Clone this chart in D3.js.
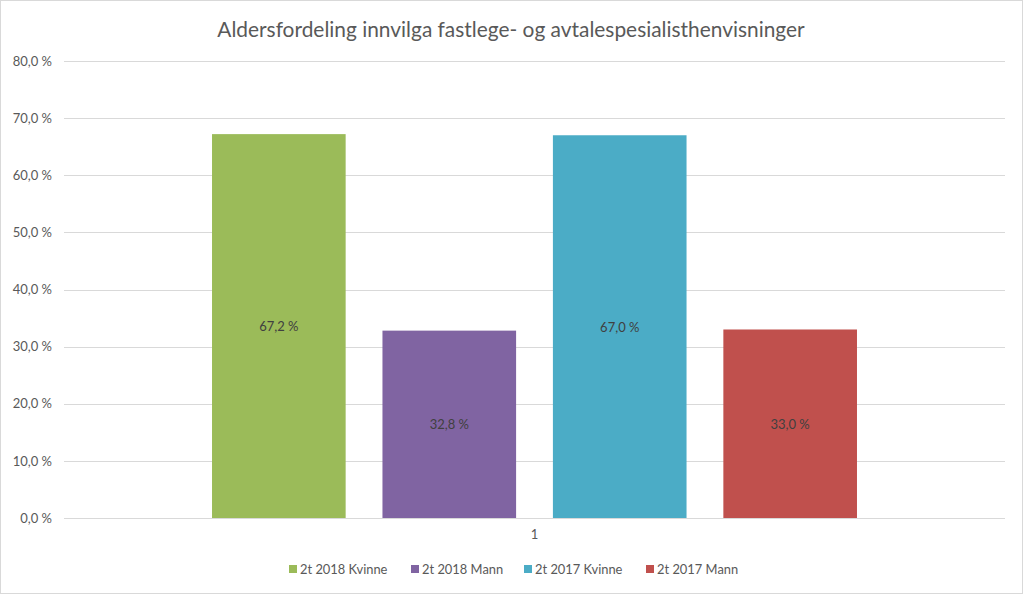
<!DOCTYPE html>
<html><head><meta charset="utf-8">
<script src="https://cdn.jsdelivr.net/npm/d3@7"></script>
<style>body{margin:0;background:#fff;font-family:Lato,"Open Sans",sans-serif}</style>
</head><body><svg id="c" width="1023" height="594"></svg>
<script>
const categories = ["1"];
const seriesNames = ["2t 2018 Kvinne","2t 2018 Mann","2t 2017 Kvinne","2t 2017 Mann"];
const seriesValues = [67.2, 32.8, 67.0, 33.0];
const seriesColors = ["#9bbb59","#8064a2","#4bacc6","#c0504d"];
const yTicks = [0,10,20,30,40,50,60,70,80];
const title = "Aldersfordeling innvilga fastlege- og avtalespesialisthenvisninger";

const svg = d3.select("#c");
svg.append("rect").attr("x",0.5).attr("y",0.5).attr("width",1022).attr("height",593)
  .attr("fill","#fff").attr("stroke","#d9d9d9");

const plot = {l:64, r:1005, t:61, b:518};
const y = d3.scaleLinear().domain([0,80]).range([plot.b, plot.t]);
const x0 = d3.scaleBand().domain(categories).range([plot.l, plot.r]).paddingInner(0).paddingOuter(0.2295);
const x1 = d3.scaleBand().domain(seriesNames).range([0, x0.bandwidth()]).paddingInner(0.216).paddingOuter(0);

const fmt = v => d3.format(".1f")(v).replace(".", ",") + "\u202F%";

// gridlines
svg.append("g").selectAll("line").data(yTicks).join("line")
  .attr("x1",plot.l).attr("x2",plot.r)
  .attr("y1",d=>Math.round(y(d))+0.5).attr("y2",d=>Math.round(y(d))+0.5)
  .attr("stroke","#d9d9d9").attr("stroke-width",1);

// y axis labels
const yAxis = d3.axisLeft(y).tickValues(yTicks).tickSize(0).tickPadding(12).tickFormat(d=>fmt(d));
const ya = svg.append("g").attr("transform",`translate(${plot.l},0)`).call(yAxis);
ya.select(".domain").remove();
ya.selectAll("text").attr("fill","#595959").style("font-size","13px").style("font-family","Lato,sans-serif");

// x axis label
const xAxis = d3.axisBottom(x0).tickSize(0).tickPadding(12);
const xa = svg.append("g").attr("transform",`translate(0,${plot.b})`).call(xAxis);
xa.select(".domain").remove();
xa.selectAll("text").attr("fill","#595959").style("font-size","13px").style("font-family","Lato,sans-serif");

// bars
const g = svg.append("g").attr("transform",`translate(${x0(categories[0])},0)`);
g.selectAll("rect").data(seriesValues).join("rect")
  .attr("x",(d,i)=>x1(seriesNames[i])).attr("width",x1.bandwidth())
  .attr("y",d=>y(d)).attr("height",d=>plot.b - y(d))
  .attr("fill",(d,i)=>seriesColors[i]);
g.selectAll("text").data(seriesValues).join("text")
  .attr("x",(d,i)=>x1(seriesNames[i])+x1.bandwidth()/2)
  .attr("y",d=>y(d/2)+5)
  .attr("text-anchor","middle").attr("fill","#404040")
  .style("font-size","13px").text(d=>fmt(d));

// title
svg.append("text").attr("x",511).attr("y",37).attr("text-anchor","middle")
  .attr("fill","#595959").style("font-size","20.9px").text(title);

// legend
const legX = [289, 411, 524, 646];
const leg = svg.append("g");
seriesNames.forEach((n,i)=>{
  leg.append("rect").attr("x",legX[i]).attr("y",565).attr("width",8).attr("height",8).attr("fill",seriesColors[i]);
  leg.append("text").attr("x",legX[i]+11).attr("y",574).attr("fill","#595959").style("font-size","12.9px").text(n);
});
</script></body></html>
